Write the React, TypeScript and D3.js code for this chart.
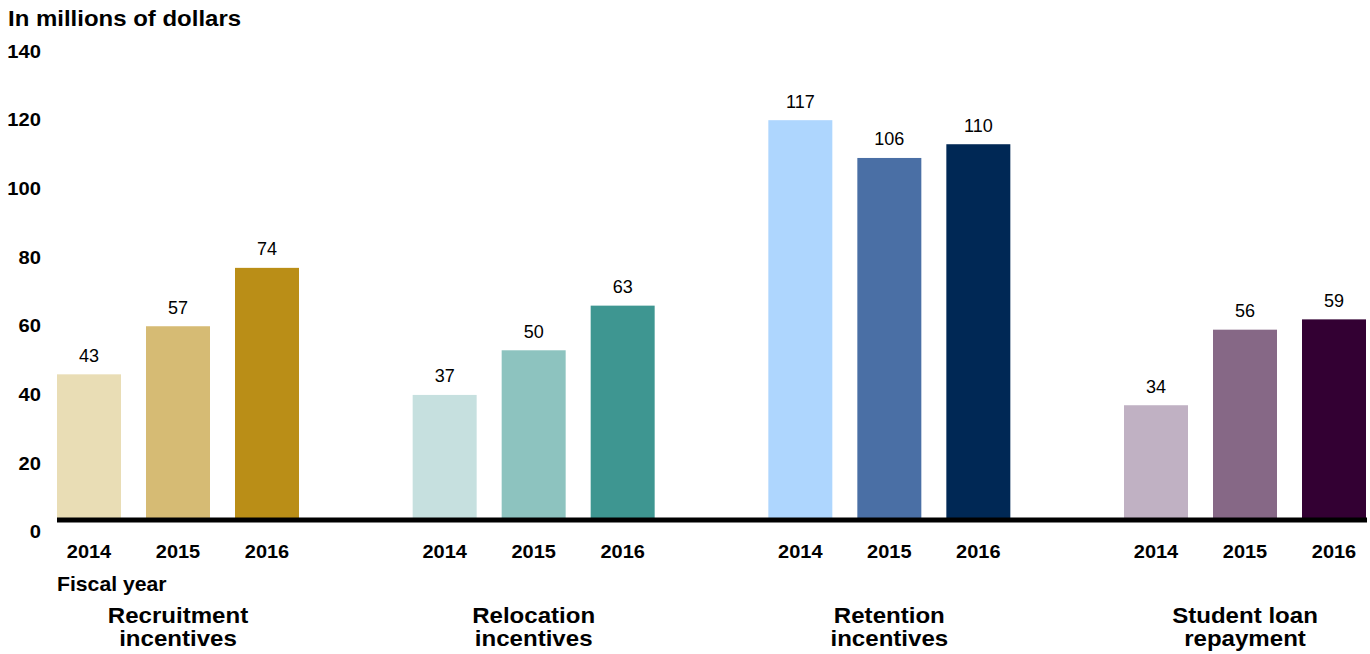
import React from "react";
import * as d3 from "d3";

const categories = ["Recruitment incentives", "Relocation incentives", "Retention incentives", "Student loan repayment"];
const categoryLines = [["Recruitment", "incentives"], ["Relocation", "incentives"], ["Retention", "incentives"], ["Student loan", "repayment"]];
const years = ["2014", "2015", "2016"];
const recruitment = [43, 57, 74];
const relocation = [37, 50, 63];
const retention = [117, 106, 110];
const studentLoan = [34, 56, 59];
const seriesValues = [recruitment, relocation, retention, studentLoan];
const palettes = [
  ["#E9DDB5", "#D6BB74", "#BA8E17"],
  ["#C6E0DF", "#8DC3BF", "#3E9691"],
  ["#AED6FE", "#4A6FA5", "#002855"],
  ["#C0B1C3", "#866886", "#330033"],
];
const yTicks = [0, 20, 40, 60, 80, 100, 120, 140];

const W = 1370;
const H = 654;
const FONT = "Liberation Sans, Arial, sans-serif";

function T(props: { x: number; y: number; sx?: number; size: number; bold?: boolean; anchor?: string; dy?: string; children: React.ReactNode }) {
  const { x, y, sx = 1, size, bold, anchor = "start", dy, children } = props;
  return (
    <text
      transform={`translate(${x},${y}) scale(${sx},1)`}
      dy={dy}
      textAnchor={anchor}
      fontSize={size}
      fontWeight={bold ? "bold" : "normal"}
      fill="#000"
    >
      {children}
    </text>
  );
}

export default function App() {
  const x0 = d3.scaleBand<string>().domain(categories).range([57, 1366]).paddingInner(0.3196).paddingOuter(0);
  const x1 = d3.scaleBand<string>().domain(years).range([0, x0.bandwidth()]).paddingInner(0.281).paddingOuter(0);
  const y = d3.scaleLinear().domain([0, 140]).range([522, 41.2]);

  return (
    <svg width={W} height={H} style={{ position: "absolute", left: 0, top: 0, background: "#fff" }} fontFamily={FONT}>
      <T x={8} y={26} size={22} sx={1.09} bold>In millions of dollars</T>
      {yTicks.map((t) => (
        <T key={t} x={41} y={y(t) + 10} dy="0.35em" anchor="end" size={18} sx={1.12} bold>{t}</T>
      ))}
      {categories.map((c, gi) => (
        <g key={c} transform={`translate(${x0(c)},0)`}>
          {years.map((yr, i) => {
            const v = seriesValues[gi][i];
            const bx = x1(yr)!;
            const cx = bx + x1.bandwidth() / 2;
            return (
              <g key={yr}>
                <rect x={bx} y={y(v)} width={x1.bandwidth()} height={y(0) - y(v)} fill={palettes[gi][i]} />
                <T x={cx} y={y(v) - 12.5} anchor="middle" size={18}>{v}</T>
                <T x={cx} y={558} anchor="middle" size={18.6} sx={1.075} bold>{yr}</T>
              </g>
            );
          })}
          {categoryLines[gi].map((ln, li) => (
            <T key={li} x={x0.bandwidth() / 2} y={622.7 + li * 23.4} anchor="middle" size={21.5} sx={1.12} bold>{ln}</T>
          ))}
        </g>
      ))}
      <line x1={57} x2={1367} y1={520} y2={520} stroke="#000" strokeWidth={5} />
      <T x={57} y={591} size={20} sx={1.06} bold>Fiscal year</T>
    </svg>
  );
}
